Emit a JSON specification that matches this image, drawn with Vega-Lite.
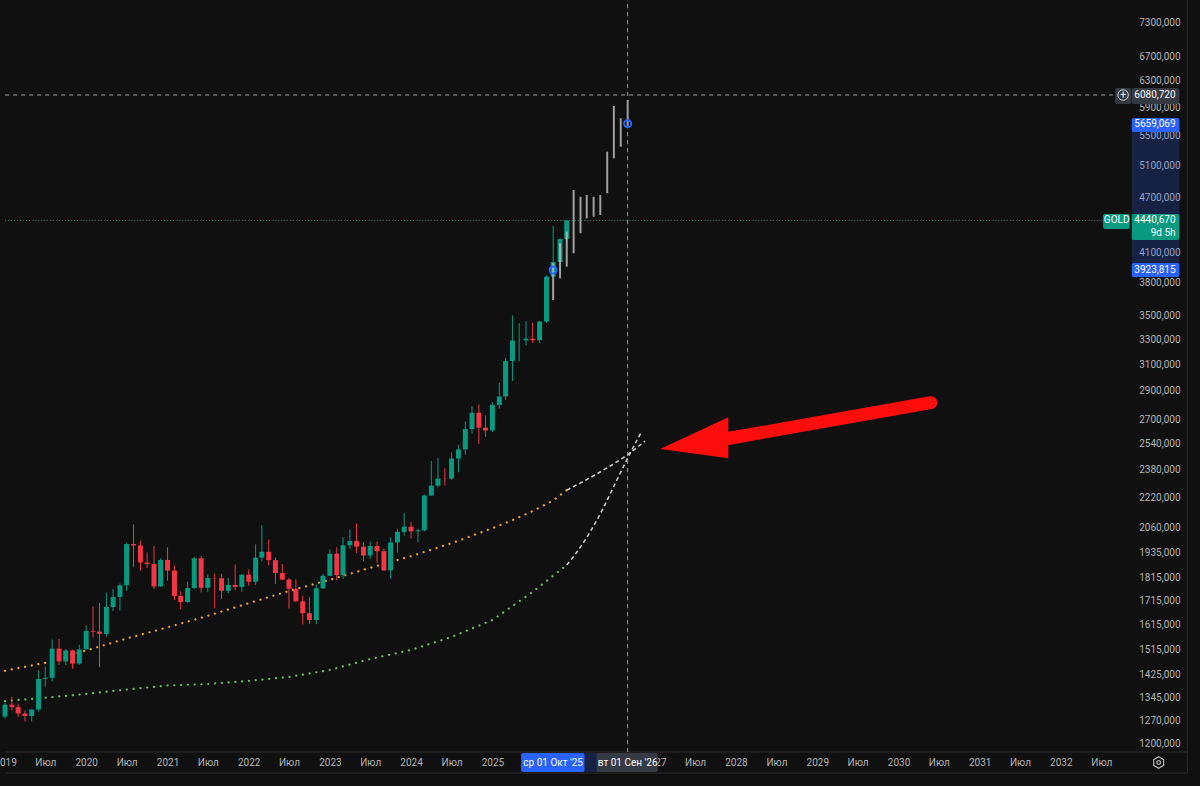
{
  "$schema": "https://vega.github.io/schema/vega-lite/v6.json",
  "width": 1135,
  "height": 752,
  "autosize": {"type": "none"},
  "padding": {"left": 0, "top": 0, "right": 65, "bottom": 34},
  "background": "#101010",
  "config": {
    "view": {"stroke": null},
    "axis": {"grid": false, "domain": false, "ticks": false, "tickSize": 0, "labelFont": "Roboto", "labelFontSize": 10, "labelColor": "#b4b4b4"}
  },
  "datasets": {
    "candles": [
      {"d":"2019-01-01","o":1282,"h":1326,"l":1276,"c":1321},
      {"d":"2019-02-01","o":1321,"h":1347,"l":1303,"c":1313},
      {"d":"2019-03-01","o":1313,"h":1324,"l":1281,"c":1292},
      {"d":"2019-04-01","o":1292,"h":1302,"l":1266,"c":1284},
      {"d":"2019-05-01","o":1284,"h":1306,"l":1267,"c":1305},
      {"d":"2019-06-01","o":1305,"h":1439,"l":1298,"c":1409},
      {"d":"2019-07-01","o":1409,"h":1453,"l":1381,"c":1413},
      {"d":"2019-08-01","o":1413,"h":1555,"l":1400,"c":1520},
      {"d":"2019-09-01","o":1520,"h":1557,"l":1459,"c":1472},
      {"d":"2019-10-01","o":1472,"h":1518,"l":1459,"c":1513},
      {"d":"2019-11-01","o":1513,"h":1516,"l":1445,"c":1464},
      {"d":"2019-12-01","o":1464,"h":1535,"l":1459,"c":1517},
      {"d":"2020-01-01","o":1517,"h":1611,"l":1517,"c":1589},
      {"d":"2020-02-01","o":1589,"h":1689,"l":1563,"c":1586},
      {"d":"2020-03-01","o":1586,"h":1704,"l":1451,"c":1577},
      {"d":"2020-04-01","o":1577,"h":1748,"l":1567,"c":1687},
      {"d":"2020-05-01","o":1687,"h":1765,"l":1670,"c":1730},
      {"d":"2020-06-01","o":1730,"h":1789,"l":1671,"c":1781},
      {"d":"2020-07-01","o":1781,"h":1981,"l":1757,"c":1975},
      {"d":"2020-08-01","o":1975,"h":2075,"l":1863,"c":1968},
      {"d":"2020-09-01","o":1968,"h":1992,"l":1848,"c":1886},
      {"d":"2020-10-01","o":1886,"h":1933,"l":1860,"c":1879},
      {"d":"2020-11-01","o":1879,"h":1966,"l":1765,"c":1776},
      {"d":"2020-12-01","o":1776,"h":1906,"l":1775,"c":1898},
      {"d":"2021-01-01","o":1898,"h":1959,"l":1802,"c":1848},
      {"d":"2021-02-01","o":1848,"h":1872,"l":1717,"c":1734},
      {"d":"2021-03-01","o":1734,"h":1755,"l":1677,"c":1708},
      {"d":"2021-04-01","o":1708,"h":1798,"l":1705,"c":1769},
      {"d":"2021-05-01","o":1769,"h":1913,"l":1766,"c":1906},
      {"d":"2021-06-01","o":1906,"h":1917,"l":1750,"c":1770},
      {"d":"2021-07-01","o":1770,"h":1832,"l":1751,"c":1814},
      {"d":"2021-08-01","o":1814,"h":1834,"l":1682,"c":1813},
      {"d":"2021-09-01","o":1813,"h":1834,"l":1721,"c":1757},
      {"d":"2021-10-01","o":1757,"h":1814,"l":1746,"c":1783},
      {"d":"2021-11-01","o":1783,"h":1877,"l":1759,"c":1774},
      {"d":"2021-12-01","o":1774,"h":1831,"l":1753,"c":1829},
      {"d":"2022-01-01","o":1829,"h":1853,"l":1780,"c":1797},
      {"d":"2022-02-01","o":1797,"h":1974,"l":1782,"c":1909},
      {"d":"2022-03-01","o":1909,"h":2070,"l":1890,"c":1937},
      {"d":"2022-04-01","o":1937,"h":1998,"l":1872,"c":1897},
      {"d":"2022-05-01","o":1897,"h":1910,"l":1787,"c":1837},
      {"d":"2022-06-01","o":1837,"h":1879,"l":1805,"c":1807},
      {"d":"2022-07-01","o":1807,"h":1814,"l":1681,"c":1766},
      {"d":"2022-08-01","o":1766,"h":1808,"l":1709,"c":1711},
      {"d":"2022-09-01","o":1711,"h":1735,"l":1615,"c":1661},
      {"d":"2022-10-01","o":1661,"h":1730,"l":1617,"c":1633},
      {"d":"2022-11-01","o":1633,"h":1786,"l":1616,"c":1768},
      {"d":"2022-12-01","o":1768,"h":1833,"l":1765,"c":1824},
      {"d":"2023-01-01","o":1824,"h":1949,"l":1823,"c":1928},
      {"d":"2023-02-01","o":1928,"h":1959,"l":1805,"c":1827},
      {"d":"2023-03-01","o":1827,"h":2009,"l":1810,"c":1969},
      {"d":"2023-04-01","o":1969,"h":2049,"l":1949,"c":1990},
      {"d":"2023-05-01","o":1990,"h":2079,"l":1932,"c":1962},
      {"d":"2023-06-01","o":1962,"h":1984,"l":1893,"c":1919},
      {"d":"2023-07-01","o":1919,"h":1987,"l":1903,"c":1965},
      {"d":"2023-08-01","o":1965,"h":1987,"l":1885,"c":1940},
      {"d":"2023-09-01","o":1940,"h":1953,"l":1847,"c":1849},
      {"d":"2023-10-01","o":1849,"h":2009,"l":1810,"c":1983},
      {"d":"2023-11-01","o":1983,"h":2052,"l":1932,"c":2036},
      {"d":"2023-12-01","o":2036,"h":2135,"l":2017,"c":2063},
      {"d":"2024-01-01","o":2063,"h":2088,"l":2002,"c":2039},
      {"d":"2024-02-01","o":2039,"h":2052,"l":1984,"c":2044},
      {"d":"2024-03-01","o":2044,"h":2236,"l":2039,"c":2230},
      {"d":"2024-04-01","o":2230,"h":2432,"l":2229,"c":2286},
      {"d":"2024-05-01","o":2286,"h":2450,"l":2277,"c":2327},
      {"d":"2024-06-01","o":2327,"h":2388,"l":2286,"c":2326},
      {"d":"2024-07-01","o":2326,"h":2484,"l":2319,"c":2447},
      {"d":"2024-08-01","o":2447,"h":2531,"l":2364,"c":2503},
      {"d":"2024-09-01","o":2503,"h":2685,"l":2471,"c":2634},
      {"d":"2024-10-01","o":2634,"h":2790,"l":2604,"c":2744},
      {"d":"2024-11-01","o":2744,"h":2801,"l":2537,"c":2643},
      {"d":"2024-12-01","o":2643,"h":2726,"l":2583,"c":2625},
      {"d":"2025-01-01","o":2625,"h":2817,"l":2615,"c":2798},
      {"d":"2025-02-01","o":2798,"h":2956,"l":2772,"c":2858},
      {"d":"2025-03-01","o":2858,"h":3149,"l":2833,"c":3124},
      {"d":"2025-04-01","o":3124,"h":3500,"l":2970,"c":3288},
      {"d":"2025-05-01","o":3288,"h":3435,"l":3121,"c":3289},
      {"d":"2025-06-01","o":3289,"h":3452,"l":3247,"c":3303},
      {"d":"2025-07-01","o":3303,"h":3439,"l":3268,"c":3290},
      {"d":"2025-08-01","o":3290,"h":3452,"l":3268,"c":3448},
      {"d":"2025-09-01","o":3448,"h":3871,"l":3436,"c":3858},
      {"d":"2025-10-01","o":3858,"h":4381,"l":3850,"c":4002},
      {"d":"2025-11-01","o":4002,"h":4245,"l":3930,"c":4239},
      {"d":"2025-12-01","o":4239,"h":4450,"l":4160,"c":4440.67}
    ],
    "pattern": [
      {"d":"2025-10-01","lo":3639,"hi":3993},
      {"d":"2025-11-01","lo":3842,"hi":4195},
      {"d":"2025-12-01","lo":3956,"hi":4318},
      {"d":"2026-01-01","lo":4091,"hi":4793},
      {"d":"2026-02-01","lo":4301,"hi":4713},
      {"d":"2026-03-01","lo":4465,"hi":4734},
      {"d":"2026-04-01","lo":4483,"hi":4713},
      {"d":"2026-05-01","lo":4503,"hi":4734},
      {"d":"2026-06-01","lo":4754,"hi":5276},
      {"d":"2026-07-01","lo":5189,"hi":5916},
      {"d":"2026-08-01","lo":5342,"hi":5736},
      {"d":"2026-09-01","lo":5620,"hi":6005}
    ],
    "ma": [
      {"s":"ma_fast","d":"2019-01-01","v":1438},
      {"s":"ma_fast","d":"2019-07-01","v":1467},
      {"s":"ma_fast","d":"2020-01-01","v":1513},
      {"s":"ma_fast","d":"2020-07-01","v":1559},
      {"s":"ma_fast","d":"2021-01-01","v":1603},
      {"s":"ma_fast","d":"2021-07-01","v":1650},
      {"s":"ma_fast","d":"2022-01-01","v":1703},
      {"s":"ma_fast","d":"2022-07-01","v":1756},
      {"s":"ma_fast","d":"2023-01-01","v":1806},
      {"s":"ma_fast","d":"2023-07-01","v":1861},
      {"s":"ma_fast","d":"2024-01-01","v":1916},
      {"s":"ma_fast","d":"2024-07-01","v":1979},
      {"s":"ma_fast","d":"2025-01-01","v":2055},
      {"s":"ma_fast","d":"2025-04-01","v":2097},
      {"s":"ma_fast","d":"2025-07-01","v":2145},
      {"s":"ma_fast","d":"2025-10-01","v":2203},
      {"s":"ma_fast","d":"2025-12-01","v":2261},
      {"s":"ma_slow","d":"2019-01-01","v":1333},
      {"s":"ma_slow","d":"2019-07-01","v":1344},
      {"s":"ma_slow","d":"2020-01-01","v":1357},
      {"s":"ma_slow","d":"2020-07-01","v":1372},
      {"s":"ma_slow","d":"2021-01-01","v":1386},
      {"s":"ma_slow","d":"2021-07-01","v":1391},
      {"s":"ma_slow","d":"2022-01-01","v":1402},
      {"s":"ma_slow","d":"2022-07-01","v":1416},
      {"s":"ma_slow","d":"2023-01-01","v":1441},
      {"s":"ma_slow","d":"2023-07-01","v":1481},
      {"s":"ma_slow","d":"2024-01-01","v":1515},
      {"s":"ma_slow","d":"2024-07-01","v":1565},
      {"s":"ma_slow","d":"2025-01-01","v":1633},
      {"s":"ma_slow","d":"2025-07-01","v":1752},
      {"s":"ma_slow","d":"2025-12-01","v":1874}
    ],
    "ext": [
      {"s":"ext_fast","d":"2025-12-01","v":2261},
      {"s":"ext_fast","d":"2026-05-02","v":2367},
      {"s":"ext_fast","d":"2026-08-30","v":2469},
      {"s":"ext_fast","d":"2026-11-18","v":2556},
      {"s":"ext_slow","d":"2025-12-01","v":1874},
      {"s":"ext_slow","d":"2026-02-02","v":1962},
      {"s":"ext_slow","d":"2026-05-02","v":2133},
      {"s":"ext_slow","d":"2026-06-30","v":2280},
      {"s":"ext_slow","d":"2026-09-12","v":2479},
      {"s":"ext_slow","d":"2026-11-04","v":2621}
    ],
    "bands": [
      {"d":"2032-11-15","d2":"2033-06-17","v":3923.815,"v2":5659.069},
      {"d":"2025-10-01","d2":"2026-09-01","v":1116,"v2":1170.3}
    ],
    "seps": [
      {"d":"2019-01-01","d2":"2033-07-23","v":1173.3,"v2":1173.3},
      {"d":"2019-01-01","d2":"2033-07-23","v":1113,"v2":1113},
      {"d":"2033-07-23","d2":"2033-07-23","v":1113,"v2":7714}
    ],
    "priceline": [{"d":"2019-01-01","d2":"2032-07-09","v":4440.67,"v2":4440.67}],
    "cross": [
      {"d":"2026-09-01","d2":"2026-09-01","v":1173.3,"v2":7714},
      {"d":"2019-01-01","d2":"2032-08-27","v":6080.72,"v2":6080.72}
    ],
    "anchors": [
      {"d":"2025-10-01","v":3923.815},
      {"d":"2026-09-01","v":5659.069}
    ],
    "arrow": [
      {"d":"2030-05-26","v":2814},
      {"d":"2027-10-19","v":2563}
    ],
    "head": [
      {"d":"2027-01-25","v":2506,"v2":2506},
      {"d":"2027-11-28","v":2713,"v2":2448}
    ],
    "grayboxes": [
      {"d":"2032-11-15","d2":"2033-06-17","v":5945,"v2":6188},
      {"d":"2032-09-01","d2":"2032-11-13","v":5945,"v2":6188},
      {"d":"2026-04-14","d2":"2027-01-15","v":1116,"v2":1170.3}
    ],
    "blueboxes": [
      {"d":"2032-11-15","d2":"2033-06-17","v":5543,"v2":5741},
      {"d":"2032-11-15","d2":"2033-06-17","v":3855,"v2":3993},
      {"d":"2025-05-10","d2":"2026-02-19","v":1116,"v2":1170.3}
    ],
    "tealboxes": [
      {"d":"2032-11-15","d2":"2033-06-17","v":4229,"v2":4514},
      {"d":"2032-07-09","d2":"2032-11-06","v":4348,"v2":4514}
    ],
    "rlabels": [
      {"d":"2033-05-31","v":6080.72,"t":"6080,720"},
      {"d":"2033-05-31","v":5659.069,"t":"5659,069"},
      {"d":"2033-05-31","v":3923.815,"t":"3923,815"},
      {"d":"2033-05-31","v":4441,"t":"4440,670"},
      {"d":"2033-05-31","v":4304,"t":"9d 5h"}
    ],
    "clabels": [
      {"d":"2032-09-08","v":4449,"t":"GOLD"},
      {"d":"2025-10-01","v":1142.8,"t":"ср 01 Окт '25"},
      {"d":"2026-09-01","v":1142.8,"t":"вт 01 Сен '26"},
      {"d":"2032-10-07","v":6080.72,"t":"+"}
    ],
    "icons": [
      {"d":"2032-10-07","v":6080.72}
    ],
    "gear": [
      {"d":"2033-03-16","v":1142.8}
    ]
  },
  "layer": [
    {
      "data": {"name": "bands"},
      "mark": {"type": "rect", "color": "#2962ff", "opacity": 0.22},
      "encoding": {
        "x": {"field": "d", "type": "temporal", "title": null,
              "scale": {"type": "utc", "nice": false, "domain": [{"year":2019,"month":1,"date":1,"utc":true},{"year":2032,"month":11,"date":7,"utc":true}]},
              "axis": {"orient": "bottom", "labelFlush": false, "labelOverlap": false, "labelPadding": 5, "labelBound": false,
                       "values": [
                         {"year":2019,"month":1,"date":1,"utc":true},{"year":2019,"month":7,"date":1,"utc":true},
                         {"year":2020,"month":1,"date":1,"utc":true},{"year":2020,"month":7,"date":1,"utc":true},
                         {"year":2021,"month":1,"date":1,"utc":true},{"year":2021,"month":7,"date":1,"utc":true},
                         {"year":2022,"month":1,"date":1,"utc":true},{"year":2022,"month":7,"date":1,"utc":true},
                         {"year":2023,"month":1,"date":1,"utc":true},{"year":2023,"month":7,"date":1,"utc":true},
                         {"year":2024,"month":1,"date":1,"utc":true},{"year":2024,"month":7,"date":1,"utc":true},
                         {"year":2025,"month":1,"date":1,"utc":true},
                         {"year":2027,"month":1,"date":1,"utc":true},{"year":2027,"month":7,"date":1,"utc":true},
                         {"year":2028,"month":1,"date":1,"utc":true},{"year":2028,"month":7,"date":1,"utc":true},
                         {"year":2029,"month":1,"date":1,"utc":true},{"year":2029,"month":7,"date":1,"utc":true},
                         {"year":2030,"month":1,"date":1,"utc":true},{"year":2030,"month":7,"date":1,"utc":true},
                         {"year":2031,"month":1,"date":1,"utc":true},{"year":2031,"month":7,"date":1,"utc":true},
                         {"year":2032,"month":1,"date":1,"utc":true},{"year":2032,"month":7,"date":1,"utc":true}
                       ],
                       "labelExpr": "utcmonth(datum.value) == 0 ? utcFormat(datum.value, '%Y') : 'Июл'"}},
        "x2": {"field": "d2"},
        "y": {"field": "v", "type": "quantitative", "title": null,
              "scale": {"type": "log", "nice": false, "domain": [1173.3, 7714]},
              "axis": {"orient": "right", "labelAlign": "right", "labelBaseline": "middle", "labelPadding": 45,
                       "values": [1200,1270,1345,1425,1515,1615,1715,1815,1935,2060,2220,2380,2540,2700,2900,3100,3300,3500,3800,4100,4700,5100,5500,5900,6300,6700,7300],
                       "labelExpr": "replace(format(datum.value, '.3f'), '.', ',')"}},
        "y2": {"field": "v2"}
      }
    },
    {
      "data": {"name": "seps"},
      "mark": {"type": "rule", "color": "#2a2a2a", "strokeWidth": 1},
      "encoding": {
        "x": {"field": "d", "type": "temporal", "title": null, "scale": {"type": "utc"}},
        "x2": {"field": "d2"},
        "y": {"field": "v", "type": "quantitative", "title": null, "scale": {"type": "log"}},
        "y2": {"field": "v2"}
      }
    },
    {
      "data": {"name": "ma"},
      "mark": {"type": "line", "strokeWidth": 2.2, "strokeCap": "round", "strokeDash": [0.1, 6.7]},
      "encoding": {
        "x": {"field": "d", "type": "temporal", "title": null, "scale": {"type": "utc"}},
        "y": {"field": "v", "type": "quantitative", "title": null, "scale": {"type": "log"}},
        "color": {"field": "s", "type": "nominal", "legend": null, "scale": {"domain": ["ma_fast", "ma_slow"], "range": ["#f0a23a", "#6cbf5e"]}}
      }
    },
    {
      "data": {"name": "ext"},
      "mark": {"type": "line", "strokeWidth": 1.5, "strokeDash": [4, 3], "color": "#cfcfcf", "interpolate": "monotone"},
      "encoding": {
        "x": {"field": "d", "type": "temporal", "title": null, "scale": {"type": "utc"}},
        "y": {"field": "v", "type": "quantitative", "title": null, "scale": {"type": "log"}},
        "detail": {"field": "s", "type": "nominal"}
      }
    },
    {
      "data": {"name": "priceline"},
      "mark": {"type": "rule", "color": "#089981", "strokeWidth": 1, "strokeDash": [1, 2], "opacity": 0.9},
      "encoding": {
        "x": {"field": "d", "type": "temporal", "title": null, "scale": {"type": "utc"}},
        "x2": {"field": "d2"},
        "y": {"field": "v", "type": "quantitative", "title": null, "scale": {"type": "log"}}
      }
    },
    {
      "data": {"name": "candles"},
      "mark": {"type": "rule", "strokeWidth": 1},
      "encoding": {
        "x": {"field": "d", "type": "temporal", "title": null, "scale": {"type": "utc"}},
        "y": {"field": "l", "type": "quantitative", "title": null, "scale": {"type": "log"}},
        "y2": {"field": "h"},
        "color": {"condition": {"test": "datum.c >= datum.o", "value": "#089981"}, "value": "#f23645"}
      }
    },
    {
      "data": {"name": "candles"},
      "mark": {"type": "bar", "size": 5},
      "encoding": {
        "x": {"field": "d", "type": "temporal", "title": null, "scale": {"type": "utc"}},
        "y": {"field": "o", "type": "quantitative", "title": null, "scale": {"type": "log"}},
        "y2": {"field": "c"},
        "color": {"condition": {"test": "datum.c >= datum.o", "value": "#089981"}, "value": "#f23645"}
      }
    },
    {
      "data": {"name": "pattern"},
      "mark": {"type": "rule", "strokeWidth": 2, "color": "#b8b8b8", "opacity": 0.85},
      "encoding": {
        "x": {"field": "d", "type": "temporal", "title": null, "scale": {"type": "utc"}},
        "y": {"field": "lo", "type": "quantitative", "title": null, "scale": {"type": "log"}},
        "y2": {"field": "hi"}
      }
    },
    {
      "data": {"name": "cross"},
      "mark": {"type": "rule", "color": "#9a9a9a", "strokeWidth": 1, "strokeDash": [4, 4]},
      "encoding": {
        "x": {"field": "d", "type": "temporal", "title": null, "scale": {"type": "utc"}},
        "x2": {"field": "d2"},
        "y": {"field": "v", "type": "quantitative", "title": null, "scale": {"type": "log"}},
        "y2": {"field": "v2"}
      }
    },
    {
      "data": {"name": "anchors"},
      "mark": {"type": "point", "shape": "circle", "filled": false, "stroke": "#2962ff", "strokeWidth": 2, "size": 50, "opacity": 1},
      "encoding": {
        "x": {"field": "d", "type": "temporal", "title": null, "scale": {"type": "utc"}},
        "y": {"field": "v", "type": "quantitative", "title": null, "scale": {"type": "log"}}
      }
    },
    {
      "data": {"name": "arrow"},
      "mark": {"type": "line", "color": "#ff0d0d", "strokeWidth": 13, "strokeCap": "round"},
      "encoding": {
        "x": {"field": "d", "type": "temporal", "title": null, "scale": {"type": "utc"}},
        "y": {"field": "v", "type": "quantitative", "title": null, "scale": {"type": "log"}}
      }
    },
    {
      "data": {"name": "head"},
      "mark": {"type": "area", "color": "#ff0d0d", "opacity": 1},
      "encoding": {
        "x": {"field": "d", "type": "temporal", "title": null, "scale": {"type": "utc"}},
        "y": {"field": "v", "type": "quantitative", "title": null, "scale": {"type": "log"}},
        "y2": {"field": "v2"}
      }
    },
    {
      "data": {"name": "grayboxes"},
      "mark": {"type": "rect", "color": "#363a45", "cornerRadius": 2},
      "encoding": {
        "x": {"field": "d", "type": "temporal", "title": null, "scale": {"type": "utc"}},
        "x2": {"field": "d2"},
        "y": {"field": "v", "type": "quantitative", "title": null, "scale": {"type": "log"}},
        "y2": {"field": "v2"}
      }
    },
    {
      "data": {"name": "blueboxes"},
      "mark": {"type": "rect", "color": "#2962ff", "cornerRadius": 2},
      "encoding": {
        "x": {"field": "d", "type": "temporal", "title": null, "scale": {"type": "utc"}},
        "x2": {"field": "d2"},
        "y": {"field": "v", "type": "quantitative", "title": null, "scale": {"type": "log"}},
        "y2": {"field": "v2"}
      }
    },
    {
      "data": {"name": "tealboxes"},
      "mark": {"type": "rect", "color": "#089981", "cornerRadius": 2},
      "encoding": {
        "x": {"field": "d", "type": "temporal", "title": null, "scale": {"type": "utc"}},
        "x2": {"field": "d2"},
        "y": {"field": "v", "type": "quantitative", "title": null, "scale": {"type": "log"}},
        "y2": {"field": "v2"}
      }
    },
    {
      "data": {"name": "icons"},
      "mark": {"type": "point", "shape": "circle", "filled": false, "stroke": "#d0d0d0", "strokeWidth": 1, "size": 110, "opacity": 1},
      "encoding": {
        "x": {"field": "d", "type": "temporal", "title": null, "scale": {"type": "utc"}},
        "y": {"field": "v", "type": "quantitative", "title": null, "scale": {"type": "log"}}
      }
    },
    {
      "data": {"name": "gear"},
      "mark": {"type": "point", "shape": "M0,-1L0.866,-0.5L0.866,0.5L0,1L-0.866,0.5L-0.866,-0.5Z", "filled": false, "stroke": "#b4b4b4", "strokeWidth": 1.2, "size": 130, "opacity": 1},
      "encoding": {
        "x": {"field": "d", "type": "temporal", "title": null, "scale": {"type": "utc"}},
        "y": {"field": "v", "type": "quantitative", "title": null, "scale": {"type": "log"}}
      }
    },
    {
      "data": {"name": "gear"},
      "mark": {"type": "point", "shape": "circle", "filled": false, "stroke": "#b4b4b4", "strokeWidth": 1.2, "size": 14, "opacity": 1},
      "encoding": {
        "x": {"field": "d", "type": "temporal", "title": null, "scale": {"type": "utc"}},
        "y": {"field": "v", "type": "quantitative", "title": null, "scale": {"type": "log"}}
      }
    },
    {
      "data": {"name": "rlabels"},
      "mark": {"type": "text", "align": "right", "baseline": "middle", "color": "#ffffff", "font": "Roboto", "fontSize": 10},
      "encoding": {
        "x": {"field": "d", "type": "temporal", "title": null, "scale": {"type": "utc"}},
        "y": {"field": "v", "type": "quantitative", "title": null, "scale": {"type": "log"}},
        "text": {"field": "t", "type": "nominal"}
      }
    },
    {
      "data": {"name": "clabels"},
      "mark": {"type": "text", "align": "center", "baseline": "middle", "color": "#ffffff", "font": "Roboto", "fontSize": 10},
      "encoding": {
        "x": {"field": "d", "type": "temporal", "title": null, "scale": {"type": "utc"}},
        "y": {"field": "v", "type": "quantitative", "title": null, "scale": {"type": "log"}},
        "text": {"field": "t", "type": "nominal"}
      }
    }
  ]
}
